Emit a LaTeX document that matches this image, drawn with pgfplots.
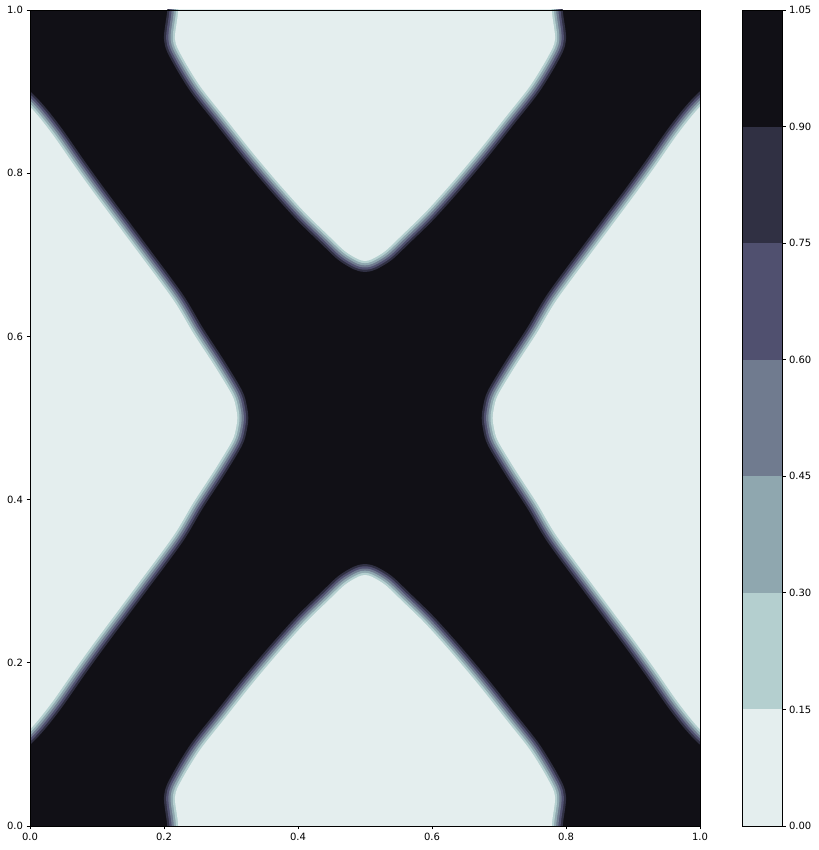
\documentclass[border=0pt]{standalone}
\usepackage{fontspec}
\setmainfont{DejaVu Sans}
\usepackage{pgfplots}
\usepackage{pgfplotstable}
\pgfplotsset{compat=1.18}
\definecolor{c0}{RGB}{228,238,238}
\definecolor{c1}{RGB}{180,207,207}
\definecolor{c2}{RGB}{143,167,175}
\definecolor{c3}{RGB}{112,123,143}
\definecolor{c4}{RGB}{80,80,111}
\definecolor{c5}{RGB}{48,48,67}
\definecolor{c6}{RGB}{17,16,22}

% light-region boundaries (0.15 contour)
\pgfplotstableread{
x y
0.222 -0.05
0.2213 0
0.2164 0.0355
0.2264 0.0564
0.2537 0.0931
0.2900 0.1310
0.3300 0.1725
0.3700 0.2115
0.4100 0.2480
0.4450 0.2760
0.4700 0.2955
0.4900 0.3055
0.5000 0.3075
0.5100 0.3055
0.5300 0.2955
0.5550 0.2760
0.5900 0.2480
0.6300 0.2115
0.6700 0.1725
0.7100 0.1310
0.7463 0.0931
0.7736 0.0564
0.7836 0.0355
0.7787 0
0.778 -0.05
}\tbc
\pgfplotstableread{
x y
0.222 1.05
0.2213 1
0.2164 0.9645
0.2264 0.9436
0.2537 0.9069
0.2900 0.8690
0.3300 0.8275
0.3700 0.7885
0.4100 0.7520
0.4450 0.7240
0.4700 0.7045
0.4900 0.6945
0.5000 0.6925
0.5100 0.6945
0.5300 0.7045
0.5550 0.7240
0.5900 0.7520
0.6300 0.7885
0.6700 0.8275
0.7100 0.8690
0.7463 0.9069
0.7736 0.9436
0.7836 0.9645
0.7787 1
0.778 1.05
}\ttc
\pgfplotstableread{
x y
-0.05 0.92
0 0.8815
0.0324 0.8489
0.0672 0.8080
0.0996 0.7712
0.1567 0.7083
0.2139 0.6446
0.2437 0.6038
0.2761 0.5629
0.3015 0.5282
0.3075 0.5123
0.3094 0.5
0.3075 0.4877
0.3015 0.4718
0.2761 0.4371
0.2437 0.3962
0.2139 0.3554
0.1567 0.2917
0.0996 0.2288
0.0672 0.1920
0.0324 0.1511
0 0.1185
-0.05 0.08
}\tlr
\pgfplotstableread{
x y
1.05 0.92
1 0.8815
0.9676 0.8489
0.9328 0.8080
0.9004 0.7712
0.8433 0.7083
0.7861 0.6446
0.7563 0.6038
0.7239 0.5629
0.6985 0.5282
0.6925 0.5123
0.6906 0.5
0.6925 0.4877
0.6985 0.4718
0.7239 0.4371
0.7563 0.3962
0.7861 0.3554
0.8433 0.2917
0.9004 0.2288
0.9328 0.1920
0.9676 0.1511
1 0.1185
1.05 0.08
}\trr

\newcommand\region[1]{%
\addplot[draw=c5,fill=c5,line width=22pt,line join=round,smooth,tension=0.5] table {#1} -- cycle;
\addplot[draw=c4,fill=c4,line width=17.6pt,line join=round,smooth,tension=0.5] table {#1} -- cycle;
\addplot[draw=c3,fill=c3,line width=13.2pt,line join=round,smooth,tension=0.5] table {#1} -- cycle;
\addplot[draw=c2,fill=c2,line width=8.8pt,line join=round,smooth,tension=0.5] table {#1} -- cycle;
\addplot[draw=c1,fill=c1,line width=4.4pt,line join=round,smooth,tension=0.5] table {#1} -- cycle;
\addplot[draw=none,fill=c0,smooth,tension=0.5] table {#1} -- cycle;
}

\begin{document}
\begin{tikzpicture}
\path[use as bounding box] (-30pt,-24pt) rectangle (788pt,826pt);
\begin{axis}[at={(0pt,0pt)}, anchor=south west, scale only axis,
  width=670pt, height=816pt, xmin=0, xmax=1, ymin=0, ymax=1,
  xtick={0,0.2,0.4,0.6,0.8,1}, ytick={0,0.2,0.4,0.6,0.8,1},
  xtick pos=bottom, ytick pos=left,
  tick align=outside, major tick length=3.5pt,
  tick style={black, line width=0.8pt},
  axis line style={line width=0.8pt},
  tick label style={font=\fontsize{10}{12}\selectfont},
  /pgf/number format/assume math mode=true,
  /pgf/number format/.cd, fixed, fixed zerofill, precision=1, /pgfplots/.cd,
  axis on top]
\addplot[draw=none,fill=c6] coordinates {(0,0) (1,0) (1,1) (0,1)} -- cycle;
\region{\tbc}
\region{\ttc}
\region{\tlr}
\region{\trr}
\end{axis}
\begin{axis}[at={(712pt,0pt)}, anchor=south west, scale only axis,
  width=40pt, height=816pt, xmin=0, xmax=1, ymin=0, ymax=1.05,
  xtick=\empty, ytick={0,0.15,0.3,0.45,0.6,0.75,0.9,1.05},
  ytick pos=right, yticklabel pos=right,
  tick align=outside, major tick length=3.5pt,
  tick style={black, line width=0.8pt},
  axis line style={line width=0.8pt},
  tick label style={font=\fontsize{10}{12}\selectfont},
  /pgf/number format/assume math mode=true,
  /pgf/number format/.cd, fixed, fixed zerofill, precision=2, /pgfplots/.cd,
  axis on top]
\addplot[draw=none,fill=c0] coordinates {(0,0) (1,0) (1,0.15) (0,0.15)} -- cycle;
\addplot[draw=none,fill=c1] coordinates {(0,0.15) (1,0.15) (1,0.3) (0,0.3)} -- cycle;
\addplot[draw=none,fill=c2] coordinates {(0,0.3) (1,0.3) (1,0.45) (0,0.45)} -- cycle;
\addplot[draw=none,fill=c3] coordinates {(0,0.45) (1,0.45) (1,0.6) (0,0.6)} -- cycle;
\addplot[draw=none,fill=c4] coordinates {(0,0.6) (1,0.6) (1,0.75) (0,0.75)} -- cycle;
\addplot[draw=none,fill=c5] coordinates {(0,0.75) (1,0.75) (1,0.9) (0,0.9)} -- cycle;
\addplot[draw=none,fill=c6] coordinates {(0,0.9) (1,0.9) (1,1.05) (0,1.05)} -- cycle;
\end{axis}
\end{tikzpicture}
\end{document}
